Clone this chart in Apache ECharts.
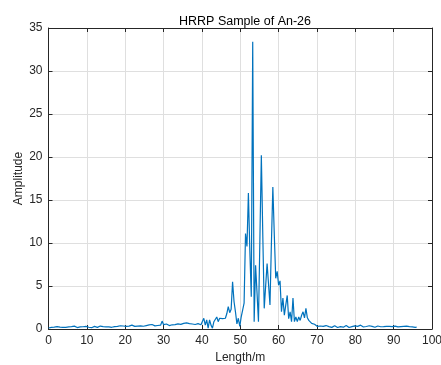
<!DOCTYPE html>
<html>
<head>
<meta charset="utf-8">
<script src="https://cdn.jsdelivr.net/npm/echarts@6/dist/echarts.min.js"></script>
<style>
  html, body { margin: 0; padding: 0; background: #fff; }
  #chart { width: 441px; height: 365px; }
</style>
</head>
<body>
<div id="chart"></div>
<script>
// range cell spacing (m) and amplitude per cell
const STEP = 0.375;
const amplitude = [
  0.12, 0.25, 0.18, 0.30, 0.22, 0.15, 0.28, 0.35,
  0.22, 0.30, 0.18, 0.26, 0.20, 0.32, 0.24, 0.15,
  0.28, 0.20, 0.33, 0.22, 0.17, 0.29, 0.24, 0.19,
  0.26, 0.18, 0.31, 0.36, 0.20, 0.27, 0.15, 0.24,
  0.30, 0.21, 0.19, 0.28, 0.34, 0.22, 0.27, 0.18,
  0.25, 0.33, 0.24, 0.30, 0.20, 0.36, 0.28, 0.40,
  0.31, 0.26, 0.38, 0.29, 0.35, 0.22, 0.30, 0.42,
  0.33, 0.27, 0.45, 0.36, 0.30, 0.41, 0.34, 0.48,
  0.37, 0.44, 0.32, 0.50, 0.40, 0.35, 0.47, 0.39,
  0.52, 0.43, 0.36, 0.49, 0.41, 0.55, 0.46, 0.92,
  0.50, 0.44, 0.58, 0.47, 0.40, 0.56, 0.49, 0.62,
  0.51, 0.45, 0.60, 0.70, 0.54, 0.48, 0.66, 0.57,
  0.72, 0.55, 0.63, 0.80, 0.58, 0.68, 0.52, 0.75,
  0.62, 0.85, 0.50, 0.45, 1.25, 0.45, 1.05, 0.10,
  1.05, 0.45, 0.10, 0.85, 0.95, 1.40, 0.85, 1.25,
  1.05, 1.20, 1.40, 1.25, 1.80, 2.60, 1.90, 2.30,
  5.50, 3.20, 2.00, 0.60, 1.25, 0.30, 1.40, 2.20,
  3.00, 11.1, 9.6, 15.8, 9.1, 3.75, 33.4, 0.85,
  7.4, 4.2, 0.85, 10.5, 20.2, 11.0, 2.4, 5.0,
  7.6, 5.2, 2.8, 10.0, 16.5, 11.0, 5.9, 6.7,
  5.1, 5.6, 2.0, 3.6, 1.6, 2.8, 3.9, 1.2,
  2.0, 0.85, 3.6, 0.85, 1.4, 0.85, 1.4, 1.0,
  1.6, 2.0, 1.3, 2.4, 1.3, 1.0, 0.8, 0.65,
  0.5, 0.55, 0.35, 0.3, 0.22, 0.35, 0.18, 0.30,
  0.25, 0.40, 0.20, 0.28, 0.33, 0.19, 0.26, 0.38,
  0.24, 0.17, 0.31, 0.27, 0.36, 0.21, 0.29, 0.42,
  0.25, 0.18, 0.33, 0.28, 0.22, 0.37, 0.26, 0.31,
  0.19, 0.45, 0.27, 0.23, 0.34, 0.29, 0.21, 0.38,
  0.26, 0.31, 0.24, 0.20, 0.28, 0.35, 0.30, 0.26,
  0.33, 0.27, 0.22, 0.30, 0.25, 0.31, 0.39, 0.28,
  0.20, 0.34, 0.29, 0.24, 0.36, 0.27, 0.21, 0.30,
  0.26, 0.33, 0.23, 0.28, 0.20, 0.25, 0.22, 0.18,
  0.21
];

const TITLE = "HRRP Sample of An-26";
const X_NAME = "Length/m";
const Y_NAME = "Amplitude";

const points = amplitude.map((v, i) => [i * STEP, v]);

const AX = "#262626";
const GRID = "#dfdfdf";
const FONT = "Liberation Sans, Arial, sans-serif";

const chart = echarts.init(document.getElementById("chart"));

const boxAxis = {
  axisLine: { show: true, onZero: false, lineStyle: { color: AX, width: 1 } },
  axisTick: { show: true, inside: true, length: 4, lineStyle: { color: AX } },
  axisLabel: { show: false },
  splitLine: { show: false },
};

chart.setOption({
  backgroundColor: "#fff",
  animation: false,
  title: {
    text: TITLE,
    left: 240, top: 10, textAlign: "center",
    textStyle: { fontFamily: FONT, fontSize: 12.5, fontWeight: "normal", color: "#000" },
  },
  grid: { left: 48.5, right: 9, top: 28, bottom: 36, containLabel: false, outerBoundsMode: "none" },
  xAxis: [{
    type: "value", min: 0, max: 100, interval: 10,
    name: X_NAME, nameLocation: "middle", nameGap: 23, nameMoveOverlap: false,
    nameTextStyle: { fontFamily: FONT, fontSize: 12, color: AX },
    axisLine: { show: true, onZero: false, lineStyle: { color: AX, width: 1 } },
    axisTick: { show: true, inside: true, length: 4, lineStyle: { color: AX } },
    axisLabel: { fontFamily: FONT, fontSize: 12, color: AX, margin: 6 },
    splitLine: { show: true, lineStyle: { color: GRID, width: 1 } },
  }, {
    type: "value", min: 0, max: 100, interval: 10, position: "top", ...boxAxis,
  }],
  yAxis: [{
    type: "value", min: 0, max: 35, interval: 5,
    name: Y_NAME, nameLocation: "middle", nameGap: 24, nameMoveOverlap: false,
    nameTextStyle: { fontFamily: FONT, fontSize: 12, color: AX },
    axisLine: { show: true, onZero: false, lineStyle: { color: AX, width: 1 } },
    axisTick: { show: true, inside: true, length: 4, lineStyle: { color: AX } },
    axisLabel: { fontFamily: FONT, fontSize: 12, color: AX, margin: 6 },
    splitLine: { show: true, lineStyle: { color: GRID, width: 1 } },
  }, {
    type: "value", min: 0, max: 35, interval: 5, position: "right", ...boxAxis,
  }],
  series: [{
    type: "line",
    data: points,
    showSymbol: false,
    lineStyle: { color: "#0072BD", width: 1.2 },
    itemStyle: { color: "#0072BD" },
  }],
});
</script>
</body>
</html>
